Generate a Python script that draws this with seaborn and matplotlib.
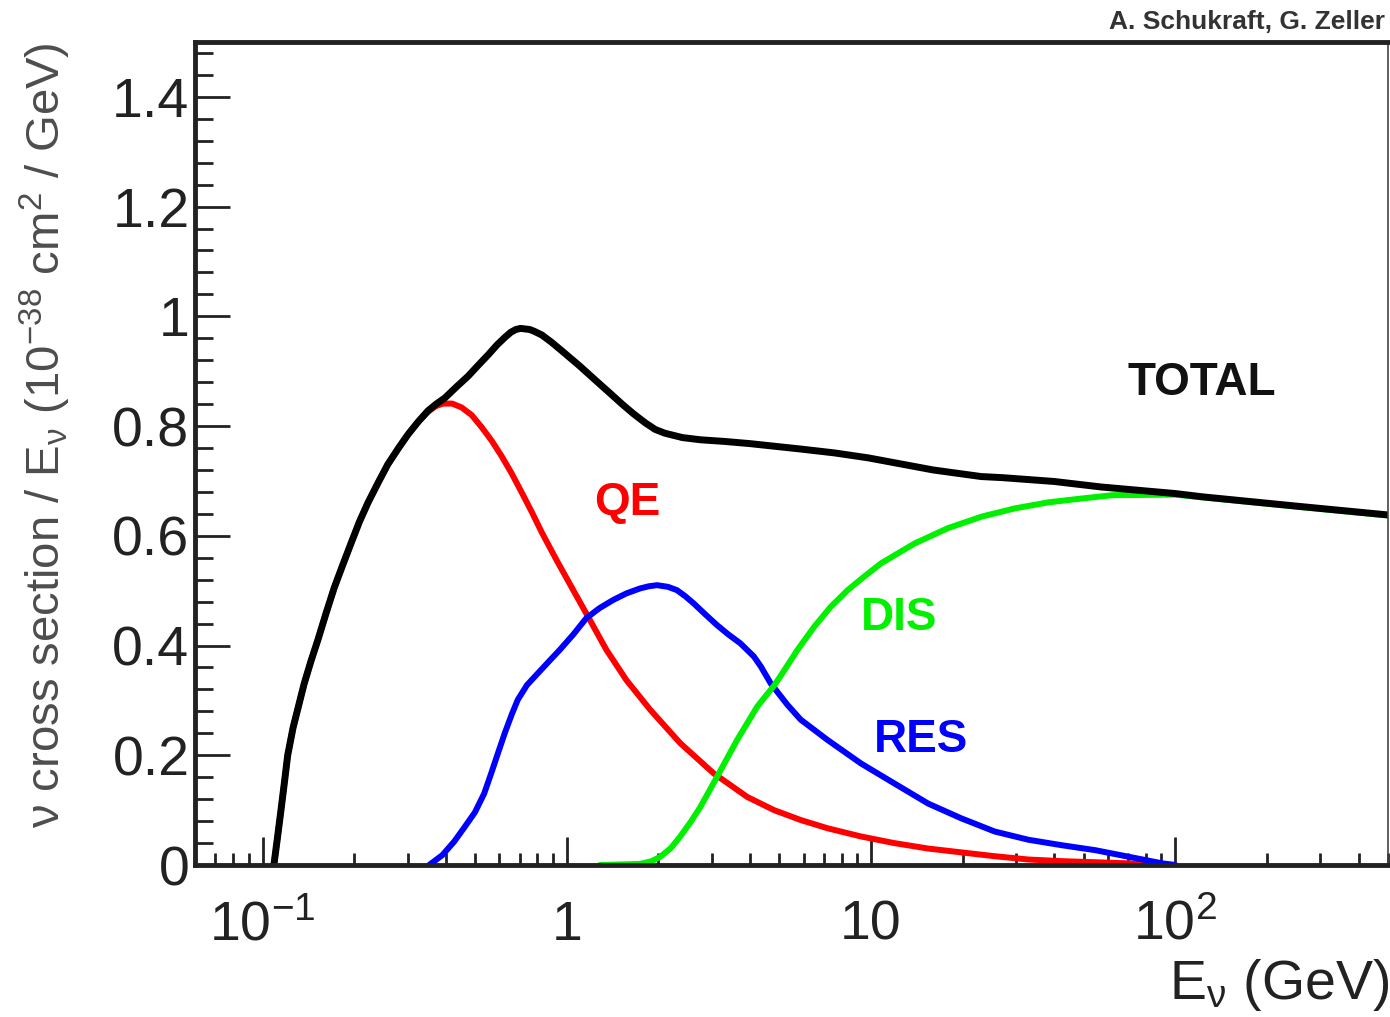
import matplotlib
matplotlib.use("Agg")
import matplotlib.pyplot as plt
import matplotlib.ticker as mticker
import pandas as pd
import seaborn as sns

# neutrino energy (GeV) and cross section / E (1e-38 cm^2 / GeV)
total_e = [0.109, 0.112, 0.115, 0.118, 0.121, 0.126, 0.130, 0.137, 0.144, 0.152,
           0.162, 0.172, 0.183, 0.195, 0.208, 0.222, 0.240, 0.258, 0.280, 0.301,
           0.325, 0.350, 0.372, 0.397, 0.435, 0.474, 0.512, 0.552, 0.59, 0.627,
           0.655, 0.68, 0.705, 0.73, 0.755, 0.78, 0.828, 0.89, 0.964, 1.10,
           1.24, 1.38, 1.52, 1.66, 1.81, 1.95, 2.10, 2.4, 2.75, 3.3,
           4.0, 5.9, 7.6, 9.8, 16, 23, 27, 40, 57, 100,
           123, 262, 500]
total_xs = [0.0, 0.05, 0.10, 0.15, 0.20, 0.25, 0.28, 0.33, 0.37, 0.41,
            0.46, 0.505, 0.545, 0.585, 0.625, 0.66, 0.697, 0.73, 0.76, 0.785,
            0.808, 0.828, 0.84, 0.851, 0.872, 0.891, 0.911, 0.93, 0.948, 0.962,
            0.971, 0.976, 0.978, 0.977, 0.976, 0.973, 0.966, 0.953, 0.937, 0.91,
            0.884, 0.861, 0.84, 0.822, 0.806, 0.794, 0.787, 0.779, 0.775, 0.772,
            0.768, 0.758, 0.751, 0.742, 0.72, 0.708, 0.706, 0.699, 0.689, 0.677,
            0.671, 0.653, 0.638]

qe_e = [0.109, 0.112, 0.115, 0.118, 0.121, 0.126, 0.130, 0.137, 0.144, 0.152,
        0.162, 0.172, 0.183, 0.195, 0.208, 0.222, 0.240, 0.258, 0.280, 0.301,
        0.325, 0.350, 0.370, 0.392, 0.420, 0.451, 0.487, 0.525, 0.567, 0.611,
        0.66, 0.711, 0.768, 0.828, 0.925, 1.05, 1.19, 1.35, 1.57, 1.88,
        2.36, 3.04, 3.92, 4.80, 5.87, 7.19, 9.27, 11.9, 15.4, 19.8,
        25.5, 32.9, 42.4, 55, 70, 90, 100]
qe_xs = [0.0, 0.05, 0.10, 0.15, 0.20, 0.25, 0.28, 0.33, 0.37, 0.41,
         0.46, 0.505, 0.545, 0.585, 0.625, 0.66, 0.697, 0.73, 0.76, 0.785,
         0.808, 0.826, 0.836, 0.841, 0.841, 0.834, 0.82, 0.798, 0.773, 0.745,
         0.713, 0.679, 0.643, 0.606, 0.556, 0.501, 0.447, 0.392, 0.337, 0.283,
         0.222, 0.167, 0.124, 0.100, 0.082, 0.067, 0.052, 0.040, 0.030, 0.023,
         0.016, 0.010, 0.007, 0.005, 0.003, 0.001, 0.0]

res_e = [0.353, 0.39, 0.427, 0.46, 0.499, 0.535, 0.566, 0.595, 0.627, 0.66,
         0.69, 0.74, 0.79, 0.87, 0.948, 1.05, 1.16, 1.28, 1.42, 1.57,
         1.74, 1.86, 1.98, 2.15, 2.30, 2.45, 2.61, 2.85, 3.12, 3.40,
         3.72, 4.12, 4.34, 4.68, 5.31, 5.87, 7.19, 9.27, 11.9, 15.4,
         19.8, 25.5, 32.9, 42.4, 54.6, 70.3, 90.6, 100]
res_xs = [0.0, 0.018, 0.043, 0.068, 0.096, 0.13, 0.169, 0.205, 0.242, 0.275,
          0.301, 0.328, 0.345, 0.37, 0.392, 0.42, 0.450, 0.468, 0.483, 0.495,
          0.504, 0.508, 0.510, 0.507, 0.501, 0.49, 0.477, 0.457, 0.437, 0.42,
          0.404, 0.380, 0.362, 0.331, 0.292, 0.265, 0.228, 0.185, 0.149, 0.112,
          0.085, 0.061, 0.046, 0.036, 0.027, 0.015, 0.003, 0.0]

dis_e = [1.285, 1.74, 1.9, 2.03, 2.2, 2.36, 2.55, 2.75, 3.12, 3.63,
         4.23, 4.80, 5.05, 5.73, 6.50, 7.38, 8.38, 9.51, 10.8, 13.9,
         17.9, 23.1, 29.7, 38.3, 49.3, 62, 100, 123, 262, 500]
dis_xs = [0.0, 0.002, 0.007, 0.015, 0.031, 0.052, 0.078, 0.106, 0.161, 0.228,
          0.289, 0.327, 0.345, 0.392, 0.434, 0.471, 0.501, 0.526, 0.550, 0.586,
          0.614, 0.635, 0.650, 0.661, 0.668, 0.674, 0.675, 0.670, 0.652, 0.637]

x_ticks = [0.1, 1, 10, 100]
x_tick_labels = ["10$^{-1}$", "1", "10", "10$^{2}$"]
y_ticks = [0, 0.2, 0.4, 0.6, 0.8, 1.0, 1.2, 1.4]

curves = pd.concat([
    pd.DataFrame({"E": qe_e, "xs": qe_xs, "proc": "QE"}),
    pd.DataFrame({"E": res_e, "xs": res_xs, "proc": "RES"}),
    pd.DataFrame({"E": dis_e, "xs": dis_xs, "proc": "DIS"}),
    pd.DataFrame({"E": total_e, "xs": total_xs, "proc": "TOTAL"}),
])
colors = {"QE": "#ff0000", "RES": "#0000ff", "DIS": "#00f000", "TOTAL": "#000000"}

sns.set_style("ticks")
plt.rcParams["font.family"] = ["Liberation Sans", "DejaVu Sans"]
plt.rcParams["mathtext.default"] = "regular"

fig = plt.figure(figsize=(13.9, 10.17), dpi=100)
ax = fig.add_axes([195 / 1390, 1 - 865 / 1017, (1388 - 195) / 1390, (865 - 42) / 1017])

for proc in ["QE", "RES", "DIS", "TOTAL"]:
    sub = curves[curves.proc == proc]
    sns.lineplot(data=sub, x="E", y="xs", color=colors[proc], ax=ax,
                 estimator=None, sort=False, legend=False,
                 linewidth=5 if proc == "TOTAL" else 4.3)

ax.set_xscale("log")
ax.set_xlim(0.06, 500)
ax.set_ylim(0, 1.5)

ax.xaxis.set_major_locator(mticker.FixedLocator(x_ticks))
ax.xaxis.set_major_formatter(mticker.FixedFormatter(x_tick_labels))
ax.xaxis.set_minor_locator(mticker.LogLocator(base=10, subs=range(2, 10), numticks=20))
ax.xaxis.set_minor_formatter(mticker.NullFormatter())
ax.yaxis.set_major_locator(mticker.FixedLocator(y_ticks))
ax.yaxis.set_major_formatter(mticker.FuncFormatter(lambda v, p: f"{v:g}"))
ax.yaxis.set_minor_locator(mticker.MultipleLocator(0.04))

ax.tick_params(axis="both", which="both", direction="in", top=False, right=False,
               colors="#222222", width=2)
ax.tick_params(axis="x", which="major", length=20, labelsize=40, pad=25)
ax.tick_params(axis="x", which="minor", length=9)
ax.tick_params(axis="y", which="major", length=25, labelsize=40, pad=4)
ax.tick_params(axis="y", which="minor", length=13)

for side in ["left", "bottom", "top"]:
    ax.spines[side].set_linewidth(3.5)
    ax.spines[side].set_color("#222222")
ax.spines["right"].set_linewidth(1.2)
ax.spines["right"].set_color("#444444")

ax.set_xlabel("")
ax.set_ylabel("")

ax.text(122, 0.879, "TOTAL", color="#111111", fontsize=33, fontweight="bold",
        ha="center", va="center")
ax.text(1.58, 0.660, "QE", color="#ff0000", fontsize=33, fontweight="bold",
        ha="center", va="center")
ax.text(12.4, 0.450, "DIS", color="#00f000", fontsize=33, fontweight="bold",
        ha="center", va="center")
ax.text(14.6, 0.228, "RES", color="#0000ff", fontsize=33, fontweight="bold",
        ha="center", va="center")

fig.text(45 / 1390, 1 - 435 / 1017,
         "ν cross section / E$_{ν}$ (10$^{-38}$ cm$^{2}$ / GeV)",
         rotation=90, ha="center", va="center", fontsize=34, color="#4d4d4d")
fig.text(1389 / 1390, 1 - 985 / 1017, "E$_{ν}$ (GeV)", ha="right", va="center",
         fontsize=40, color="#222222")
fig.text(1385 / 1390, 1 - 22 / 1017, "A. Schukraft, G. Zeller", ha="right",
         va="center", fontsize=19, fontweight="bold", color="#333333")

fig.savefig("out.png", dpi=100, facecolor="white")
